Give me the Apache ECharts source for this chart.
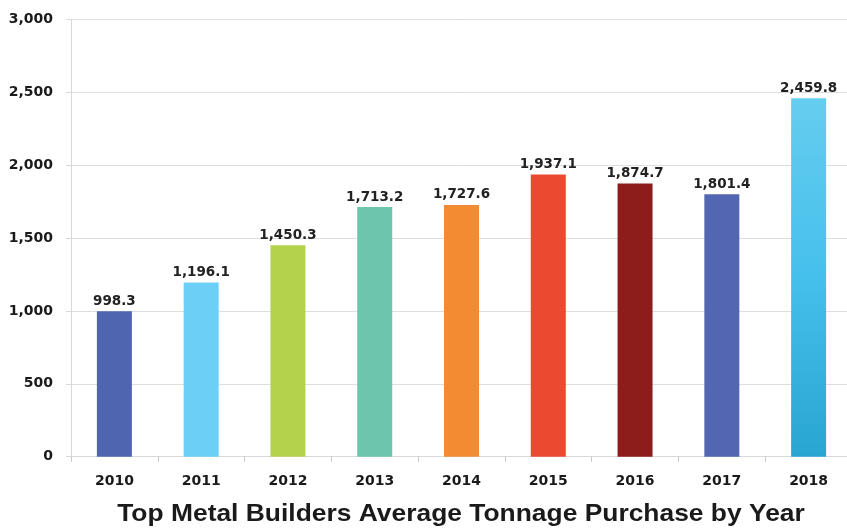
<!DOCTYPE html>
<html>
<head>
<meta charset="utf-8">
<script src="https://cdn.jsdelivr.net/npm/echarts@6/dist/echarts.min.js"></script>
<style>
html,body{margin:0;padding:0;background:#fff;overflow:hidden;}
#chart{width:852px;height:528px;}
</style>
</head>
<body>
<div id="chart"></div>
<script>
const categories = ['2010','2011','2012','2013','2014','2015','2016','2017','2018'];
const values = [998.3, 1196.1, 1450.3, 1713.2, 1727.6, 1937.1, 1874.7, 1801.4, 2459.8];
const barColors = ['#5065b0','#6ccff5','#b4d34c','#6ec5ad','#f28b31','#ec4a30','#8c1d1b','#5366b2', null];
const titleText = 'Top Metal Builders Average Tonnage Purchase by Year';

const chart = echarts.init(document.getElementById('chart'));
const fmt = v => v.toLocaleString('en-US', {minimumFractionDigits: 1, maximumFractionDigits: 1});
const data = values.map((v, i) => ({
  value: v,
  itemStyle: {
    color: barColors[i] || new echarts.graphic.LinearGradient(0, 0, 0, 1, [
      {offset: 0, color: '#66cdef'},
      {offset: 0.5, color: '#45c0ec'},
      {offset: 1, color: '#29a5d2'}
    ])
  }
}));

const labelFont = 'DejaVu Sans';

chart.setOption({
  animation: false,
  backgroundColor: '#fff',
  graphic: [{
    type: 'text',
    x: 461,
    y: 514,
    scaleX: 1.1,
    style: {
      text: titleText,
      font: 'bold 24px "Liberation Sans", Arial, sans-serif',
      fill: '#1a1a1a',
      textAlign: 'center',
      textVerticalAlign: 'middle'
    }
  }],
  grid: {left: 71, right: 0, top: 19.5, bottom: 71.3, containLabel: false},
  xAxis: {
    type: 'category',
    data: categories,
    axisLine: {lineStyle: {color: '#d9d9d9', width: 1}},
    axisTick: {show: true, length: 5, lineStyle: {color: '#c8c8c8'}},
    axisLabel: {margin: 18, fontFamily: labelFont, fontWeight: 'bold', fontSize: 14, color: '#1a1a1a'}
  },
  yAxis: {
    type: 'value',
    min: 0, max: 3000, interval: 500,
    axisLine: {show: true, lineStyle: {color: '#d9d9d9'}},
    axisTick: {show: true, length: 5, lineStyle: {color: '#d9d9d9'}},
    splitLine: {lineStyle: {color: '#dedede'}},
    axisLabel: {
      margin: 18, fontFamily: labelFont, fontWeight: 'bold', fontSize: 14, color: '#1a1a1a',
      formatter: v => v.toLocaleString('en-US')
    }
  },
  series: [{
    type: 'bar',
    data: data,
    barWidth: 35,
    label: {
      show: true, position: 'top', distance: 3,
      fontFamily: labelFont, fontWeight: 'bold', fontSize: 13.5, color: '#222',
      formatter: p => fmt(p.value)
    }
  }]
});
</script>
</body>
</html>
